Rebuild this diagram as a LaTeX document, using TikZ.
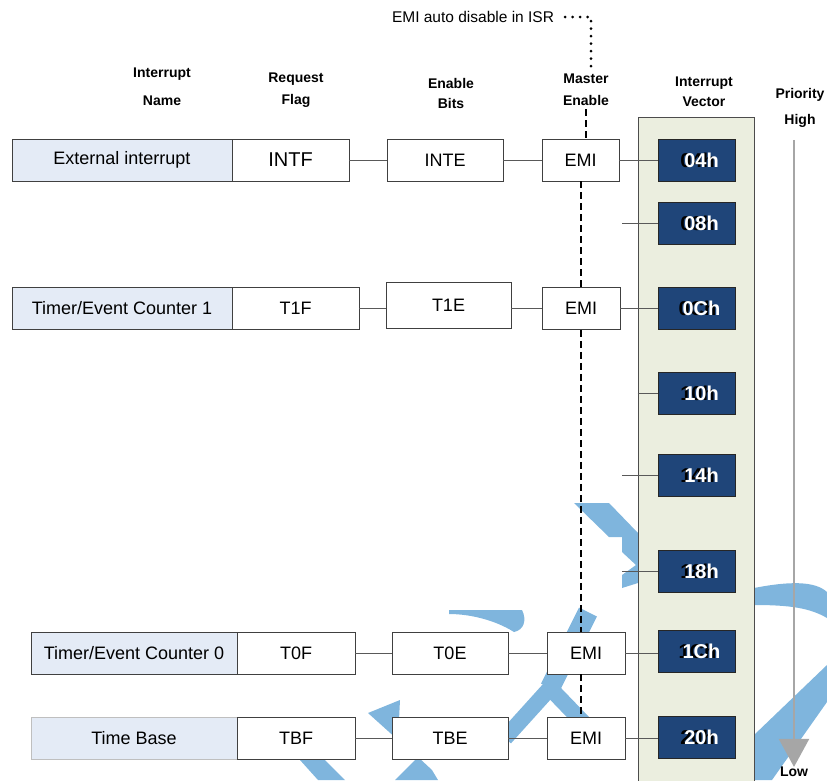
\documentclass[tikz,border=0pt]{standalone}
\usepackage{fontspec}
\setmainfont{Liberation Sans}
\usetikzlibrary{arrows.meta}

\definecolor{namefill}{HTML}{E4EBF6}
\definecolor{panelfill}{HTML}{EBEEDF}
\definecolor{vecfill}{HTML}{1F4579}
\definecolor{priogray}{HTML}{A6A6A6}
\definecolor{wmblue}{HTML}{7FB5DD}

\begin{document}
\begin{tikzpicture}[x=1pt,y=-1pt,
 box/.style={draw=black!75,line width=0.9pt,fill=white,inner sep=0pt,
 minimum width=#1,minimum height=42pt,font=\fontsize{18}{20}\selectfont},
 nm/.style={box=#1,fill=namefill},
 vec/.style={draw=black!85,line width=0.9pt,fill=vecfill,minimum width=77pt,
 minimum height=42pt,inner sep=0pt},
 vtxt/.style={text=white,font=\bfseries\fontsize{20}{22}\selectfont,inner sep=0pt},
 ghost/.style={vtxt,text=black},
 hdr/.style={font=\bfseries\fontsize{14}{#1}\selectfont,align=center,inner sep=0pt},
 hdr/.default=22,
 wire/.style={draw=black!65,line width=0.9pt},
 bus/.style={line width=2pt,dash pattern=on 7pt off 4pt},
 dots/.style={line width=3pt,line cap=round,dash pattern=on 0pt off 7.5pt},
 prio/.style={draw=priogray,line width=2.2pt,-{Triangle[width=30pt,length=28pt]}},
 wm/.style={fill=wmblue,draw=none}]
\useasboundingbox (0,0) rectangle (827,780);

% watermark
\fill[wm] (574,503) -- (609,503) -- (638,533) -- (638,583) -- (622,588) -- (622,575)
 -- (636,565) -- (622,552) -- (622,537) -- (609,537) -- cycle;
\fill[wm] (754,588) .. controls (790,581) and (815,581) .. (827,592) -- (827,618)
 .. controls (810,608) and (790,605) .. (754,605) -- cycle;
\fill[wm] (827,665) -- (827,702) -- (772,780) -- (754,780) -- (754,735) -- cycle;
\fill[wm] (449,610) -- (522,610) .. controls (527,620) and (524,630) .. (514,632)
 .. controls (495,620) and (470,614) .. (449,614) -- cycle;
\draw[wmblue,line width=20pt] (588,612) -- (550,688);
\draw[wmblue,line width=16pt] (552,686) -- (505,738);
\draw[wmblue,line width=16pt] (548,686) -- (602,742);
\fill[wm] (368,713) -- (400,700) -- (398,740) -- cycle;
\fill[wm] (300,760) -- (325,760) -- (345,780) -- (318,780) -- cycle;
\fill[wm] (395,780) -- (418,757) -- (432,770) -- (438,780) -- cycle;

% headers
\node[hdr=28] (hname) at (162,87) {Interrupt\\Name};
\node[hdr] (hflag) at (296,90) {Request\\Flag};
\node[hdr=20] (hbits) at (451,93) {Enable\\Bits};
\node[hdr] (mst) at (586,90) {Master\\Enable};
\node[hdr=20] (hvec) at (704,91.5) {Interrupt\\Vector};
\node[hdr=26] (pri) at (800,108) {Priority\\High};
\node[hdr] (low) at (794,772) {Low};
\node[font=\fontsize{15.5}{18}\selectfont,inner sep=0pt] (isr) at (473,17) {EMI auto disable in ISR};

% vector table
\node[draw=black!70,line width=0.9pt,fill=panelfill,minimum width=116pt,
 minimum height=680pt,inner sep=0pt] (panel) at (696,457) {};
\foreach \nm/\y/\txt in {va/160/04h,vb/223.5/08h,vc/308.5/0Ch,vd/393.5/10h,
 ve/475.5/14h,vf/571.5/18h,vg/651/1Ch,vh/737/20h} {
 \node[vec] (\nm) at (696.5,\y) {};
 \node[ghost] (\nm g) at ([xshift=1pt]\nm.center) {\txt};
 \node[vtxt] (\nm t) at ([xshift=5pt]\nm.center) {\txt};
}

% interrupt rows
\node[nm=220] (ext) at (122,160) {External interrupt};
\node[box=117,font=\fontsize{20}{22}\selectfont] (intf) at (290.5,160) {INTF};
\node[box=116] (inte) at (445,160) {INTE};
\node[box=77] (emia) at (580.5,160) {EMI};

\node[nm=220] (tmra) at (122,308) {Timer/Event Counter 1};
\node[box=127] (tif) at (295.5,308) {T1F};
\node[box=125,minimum height=46pt] (tie) at (448.5,305) {T1E};
\node[box=78] (emib) at (581,308.5) {EMI};

\node[nm=206] (tmrz) at (134,653) {Timer/Event Counter 0};
\node[box=118] (tzf) at (296,653) {T0F};
\node[box=116] (tze) at (450,653) {T0E};
\node[box=78] (emic) at (586,653) {EMI};

\node[nm=206,draw=black!25] (tb) at (134,738.5) {Time Base};
\node[box=118] (tbf) at (296,738.5) {TBF};
\node[box=116] (tbe) at (450,738.5) {TBE};
\node[box=78] (emid) at (586,738.5) {EMI};

% links
\draw[wire] (intf) -- (inte);
\draw[wire] (inte) -- (emia);
\draw[wire] (emia) -- (va);
\draw[wire] (tif.east) -- (tif.east -| tie.west);
\draw[wire] (tie.east |- emib.west) -- (emib.west);
\draw[wire] (emib) -- (vc);
\draw[wire] (tzf) -- (tze);
\draw[wire] (tze) -- (emic);
\draw[wire] (emic.east) -- (emic.east -| vg.west);
\draw[wire] (tbf) -- (tbe);
\draw[wire] (tbe) -- (emid);
\draw[wire] (emid.east) -- (emid.east -| vh.west);
\coordinate (sb) at (622,223.5);
\coordinate (se) at (622,475.5);
\coordinate (sf) at (622,571.5);
\draw[wire] (sb) -- (vb);
\draw[wire] (panel.west |- vd) -- (vd);
\draw[wire] (se) -- (ve);
\draw[wire] (sf) -- (vf);

% master enable bus
\draw[bus] ([yshift=-3pt]mst.south) -- (mst.south |- emia.north);
\draw[bus] (emia.south) -- (emia.south |- emib.north);
\draw[bus] (emib.south) -- (emib.south |- emic.north);
\draw[bus] (emib.south |- emic.south) -- (emib.south |- emid.north);
\draw[dots] ([xshift=11pt]isr.east) -| ([xshift=5pt,yshift=4pt]mst.north);

% priority
\draw[prio] ([yshift=-12pt]low.north |- pri.south) -- (low.north);
\end{tikzpicture}
\end{document}
